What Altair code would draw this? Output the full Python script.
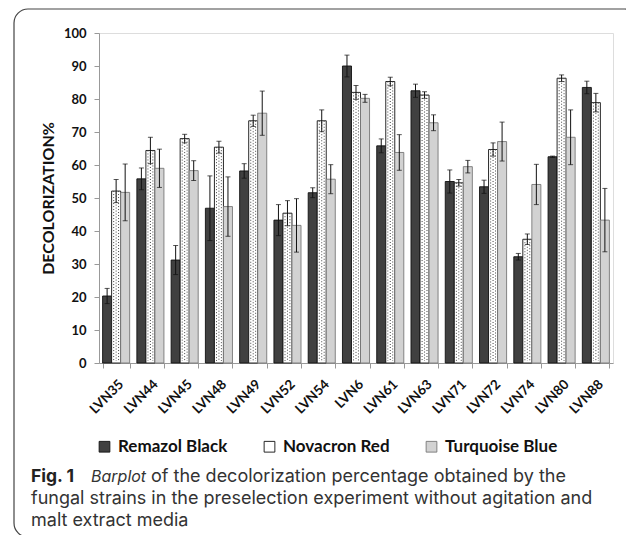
import altair as alt
import pandas as pd

strains = ["LVN35", "LVN44", "LVN45", "LVN48", "LVN49", "LVN52", "LVN54", "LVN6",
           "LVN61", "LVN63", "LVN71", "LVN72", "LVN74", "LVN80", "LVN88"]
series = ["Remazol Black", "Novacron Red", "Turquoise Blue"]

remazol = [20.3, 55.8, 31.2, 46.9, 58.2, 43.3, 51.6, 90.0, 65.8, 82.5, 55.0, 53.4, 32.2, 62.5, 83.5]
remazol_err = [2.3, 3.3, 4.4, 9.8, 2.2, 4.7, 1.5, 3.3, 2.1, 2.0, 3.5, 2.0, 1.0, 0.2, 1.9]
novacron = [52.1, 64.4, 68.0, 65.4, 73.4, 45.4, 73.4, 82.0, 85.3, 81.2, 54.6, 64.7, 37.5, 86.3, 78.9]
novacron_err = [3.5, 4.0, 1.3, 1.8, 1.7, 3.8, 3.3, 2.1, 1.3, 1.0, 1.0, 2.0, 1.6, 1.0, 2.8]
turquoise = [51.7, 59.0, 58.3, 47.4, 75.7, 41.7, 55.7, 80.2, 63.8, 72.8, 59.5, 67.1, 54.1, 68.4, 43.3]
turquoise_err = [8.6, 5.8, 3.0, 9.0, 6.7, 8.1, 4.4, 1.2, 5.4, 2.4, 1.9, 5.9, 6.1, 8.3, 9.6]

y_ticks = [0, 10, 20, 30, 40, 50, 60, 70, 80, 90, 100]
y_title = "DECOLORIZATION%"
caption_fig = "Fig. 1"
caption_italic = "Barplot"
caption_line1 = "of the decolorization percentage obtained by the"
caption_line2 = "fungal strains in the preselection experiment without agitation and"
caption_line3 = "malt extract media"

rows = []
for vals, errs, s in [(remazol, remazol_err, series[0]),
                      (novacron, novacron_err, series[1]),
                      (turquoise, turquoise_err, series[2])]:
    for st, v, e in zip(strains, vals, errs):
        rows.append({"strain": st, "series": s, "value": v, "err": e})
df = pd.DataFrame(rows)

CHART_FONT = "Lato"
CAP_FONT = "Inter"

base = alt.Chart(df).transform_calculate(
    lo="datum.value - datum.err", hi="datum.value + datum.err"
)

x_scale = alt.Scale(domain=strains, paddingInner=0.21, paddingOuter=0.105)
x_axis = alt.Axis(labelAngle=-45, labelAlign="right", labelBaseline="top",
                  labelFont=CHART_FONT, labelFontWeight="bold", labelFontSize=13.5,
                  labelColor="#111", labelPadding=9, tickBand="extent",
                  tickSize=5, tickColor="#999", domainColor="#999", grid=False,
                  title=None)
y_scale = alt.Scale(domain=[0, 100], nice=False)
y_axis = alt.Axis(values=y_ticks, grid=False, tickSize=5, tickColor="#999",
                  domainColor="#999", labelFont=CHART_FONT, labelOverlap=False,
                  labelFontWeight="bold", labelFontSize=13, labelColor="#111",
                  labelPadding=8, title=y_title, titleFont=CHART_FONT,
                  titleFontWeight="bold", titleFontSize=16, titleColor="#111",
                  titleAngle=-90, titleX=-51, titleY=165, titleAlign="center",
                  titleBaseline="middle")
xo_scale = alt.Scale(domain=series, paddingInner=0, paddingOuter=0)


def X():
    return alt.X("strain:N", sort=strains, scale=x_scale, axis=x_axis)


def XO():
    return alt.XOffset("series:N", sort=series, scale=xo_scale)


def Y(field):
    return alt.Y(field, scale=y_scale, axis=y_axis)


bars = base.mark_bar(strokeWidth=0.9).encode(
    x=X(),
    xOffset=XO(),
    y=Y("value:Q"),
    color=alt.Color("series:N", sort=series,
                    scale=alt.Scale(domain=series, range=["#404040", "#ffffff", "#d2d2d2"]),
                    legend=alt.Legend(title=None, orient="none", legendX=-3, legendY=405,
                                      direction="horizontal", symbolType="square",
                                      symbolSize=115, symbolStrokeColor="#222",
                                      symbolStrokeWidth=0.9, labelFont=CHART_FONT,
                                      labelFontWeight="bold", labelFontSize=17,
                                      labelColor="#111", columnPadding=33,
                                      labelOffset=5)),
    stroke=alt.Stroke("series:N", sort=series,
                      scale=alt.Scale(domain=series, range=["#111111", "#111111", "#777777"]),
                      legend=None),
)

# dotted texture of the Novacron Red bars (middle third of each band)
nr = base.transform_filter(alt.datum.series == series[1])
dot_layers = []
for bp, off in [(0.41, 0), (0.5, 1.5), (0.59, 0)]:
    dot_layers.append(
        nr.mark_rule(strokeDash=[1, 2], strokeDashOffset=off,
                     color="#444", strokeWidth=1).encode(
            x=alt.X("strain:N", sort=strains, scale=x_scale, axis=x_axis,
                    bandPosition=bp),
            y=Y("value:Q"),
            y2=alt.datum(0.6),
        )
    )

err_rule = base.mark_rule(color="#111", strokeWidth=1).encode(
    x=X(), xOffset=XO(), y=Y("lo:Q"), y2="hi:Q",
)
err_lo = base.mark_tick(color="#111", thickness=1, size=5).encode(
    x=X(), xOffset=XO(), y=Y("lo:Q"),
)
err_hi = base.mark_tick(color="#111", thickness=1, size=5).encode(
    x=X(), xOffset=XO(), y=Y("hi:Q"),
)

one = pd.DataFrame({"a": [0]})
box = alt.Chart(one).mark_rect(filled=False, stroke="#444", strokeWidth=1.2,
                               cornerRadius=14).encode(
    x=alt.value(-85), x2=alt.value(540), y=alt.value(-24), y2=alt.value(504)
)


def txt(s, x, y, weight="normal", style="normal", size=18, color="#333"):
    return alt.Chart(pd.DataFrame({"t": [s]})).mark_text(
        align="left", baseline="alphabetic", font=CAP_FONT, fontSize=size,
        fontWeight=weight, fontStyle=style, color=color
    ).encode(text="t:N", x=alt.value(x), y=alt.value(y))


cap = [
    txt(caption_fig, -68, 449, weight="bold", size=17.5, color="#222"),
    txt(caption_italic, -8, 449, style="italic", size=16),
    txt(caption_line1, 52, 449),
    txt(caption_line2, -68, 471),
    txt(caption_line3, -68, 493),
]

chart = alt.layer(bars, *dot_layers, err_rule, err_lo, err_hi, box, *cap).properties(
    width=514, height=330,
    autosize=alt.AutoSizeParams(type="none"),
    padding={"left": 91, "top": 25, "right": 13, "bottom": 172},
).configure_view(stroke=None).configure(background="white")

chart.save("out.html", embed_options={"renderer": "svg", "actions": False})
